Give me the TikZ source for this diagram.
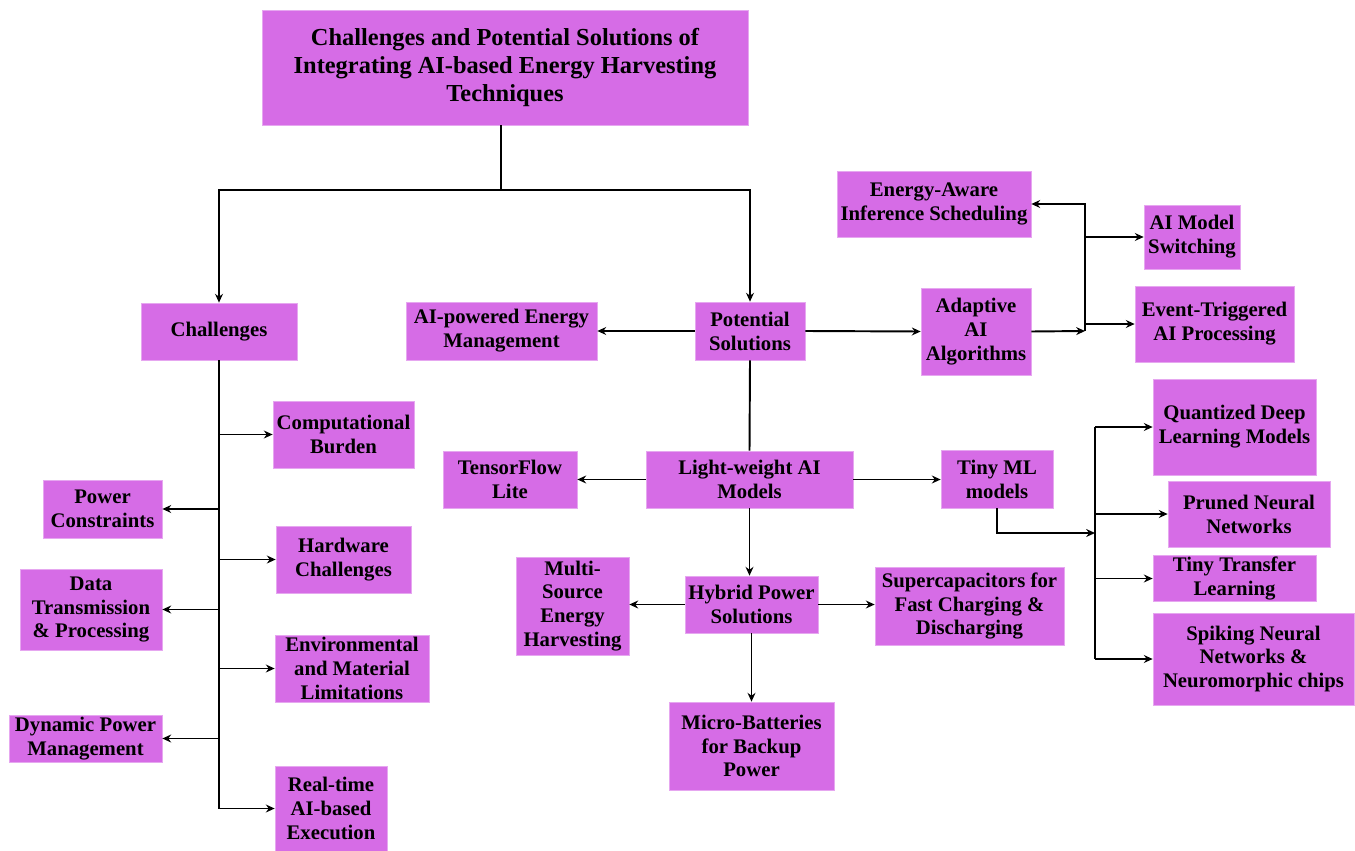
\documentclass[tikz,border=0pt]{standalone}
\usepackage{fontspec}
\setmainfont{Liberation Serif}
\usetikzlibrary{arrows.meta}
\definecolor{boxfill}{RGB}{214,108,230}

\tikzset{
  box/.style={fill=boxfill, draw=boxfill!60!white, line width=0.4pt, align=center, inner sep=1pt,
    font=\bfseries\fontsize{11.8}{13.6}\selectfont}, % every coloured block
  sz/.style 2 args={minimum width=#1*0.02cm, minimum height=#2*0.02cm}, % block size in pixels
  link/.style={line width=1.1pt},
  arr/.style={link, -{Stealth[length=5pt,width=4.5pt]}},
}

\begin{document}
\begin{tikzpicture}[x=0.02cm, y=-0.02cm]
    \useasboundingbox (0,0) rectangle (1355,851);

    % title and the two branches
    \node[box, sz={486}{115}, font=\bfseries\fontsize{13.9}{15.9}\selectfont] (title) at (505,67.5)
        {Challenges and Potential Solutions of\\Integrating AI-based Energy Harvesting\\Techniques};
    \node[box, sz={156}{57}] (chal) at (219,331.5) {Challenges};
    \node[box, sz={110}{58}] (ps) at (750,331) {Potential\\Solutions};

    % challenges
    \node[box, sz={141}{67}] (comp) at (343.5,434.5) {Computational\\Burden};
    \node[box, sz={119}{58}] (pow) at (102.5,509) {Power\\Constraints};
    \node[box, sz={135}{67}] (hw) at (343.5,559.5) {Hardware\\Challenges};
    \node[box, sz={142}{81}] (data) at (91,609.5) {Data\\Transmission\\\& Processing};
    \node[box, sz={154}{67}] (env) at (352,668.5) {Environmental\\and Material\\Limitations};
    \node[box, sz={153}{47}] (dyn) at (85.5,738.5) {Dynamic Power\\Management};
    \node[box, sz={112}{85}] (rt) at (331,808.5) {Real-time\\AI-based\\Execution};

    % potential solutions
    \node[box, sz={191}{58}] (aip) at (501.5,331) {AI-powered Energy\\Management};
    \node[box, sz={110}{87}] (ad) at (976,331.5) {Adaptive\\AI\\Algorithms};
    \node[box, sz={194}{66}] (eas) at (934,204) {Energy-Aware\\Inference Scheduling};
    \node[box, sz={96}{64}] (ams) at (1192,237) {AI Model\\Switching};
    \node[box, sz={159}{76}] (evt) at (1214.5,324) {Event-Triggered\\AI Processing};

    \node[box, sz={207}{57}] (lw) at (749.5,479.5) {Light-weight AI\\Models};
    \node[box, sz={134}{57}] (tfl) at (510,479.5) {TensorFlow\\Lite};
    \node[box, sz={112}{58}] (tml) at (997,479) {Tiny ML\\models};
    \node[box, sz={163}{96}] (qd) at (1234.5,427) {Quantized Deep\\Learning Models};
    \node[box, sz={162}{66}] (pn) at (1249,514) {Pruned Neural\\Networks};
    \node[box, sz={163}{45}] (ttl) at (1234.5,578.5) {Tiny Transfer\\Learning};
    \node[box, sz={201}{92}] (sp) at (1253.5,659) {Spiking Neural\\Networks \&\\Neuromorphic chips};

    \node[box, sz={133}{57}] (hy) at (751.5,604.5) {Hybrid Power\\Solutions};
    \node[box, sz={113}{98}] (ms) at (572.5,606) {Multi-\\Source\\Energy\\Harvesting};
    \node[box, sz={189}{78}] (sc) at (969.5,606) {Supercapacitors for\\Fast Charging \&\\Discharging};
    \node[box, sz={165}{88}] (mb) at (751.5,746) {Micro-Batteries\\for Backup\\Power};

    % junction points
    \coordinate (tb) at (501,190);
    \coordinate (aj) at (1085,331);
    \coordinate (ajt) at (1085,204);
    \coordinate (tj) at (1095,533);

    % title connectors
    \draw[link] (title.south -| tb) -- (tb);
    \draw[arr] (tb) -| (chal.north);
    \draw[arr] (tb) -| (ps.north);

    % challenges trunk
    \draw[link] (chal.south) -- (chal.south |- rt.west);
    \draw[arr] (chal.south |- comp.west) -- (comp.west);
    \draw[arr] (chal.south |- pow.east) -- (pow.east);
    \draw[arr] (chal.south |- hw.west) -- (hw.west);
    \draw[arr] (chal.south |- data.east) -- (data.east);
    \draw[arr] (chal.south |- env.west) -- (env.west);
    \draw[arr] (chal.south |- dyn.east) -- (dyn.east);
    \draw[arr] (chal.south |- rt.west) -- (rt.west);

    % solutions
    \draw[arr] (ps.west) -- (aip.east);
    \draw[arr] (ps.east) -- (ad.west);
    \draw[link] (ps.south) -- (lw.north);
    \draw[arr] (ad.east) -- (aj);
    \draw[arr] (aj) -- (ajt) -- (eas.east);
    \draw[arr] (aj |- ams.west) -- (ams.west);
    \draw[arr] (aj |- evt.west) -- (evt.west);

    \draw[arr] (lw.west) -- (tfl.east);
    \draw[arr] (lw.east) -- (lw.east -| tml.west);
    \draw[arr] (lw.south) -- (lw.south |- hy.north);
    \draw[arr] (tml.south) |- (tj);
    \draw[link] (tj |- qd.west) -- (tj |- sp.west);
    \draw[arr] (tj |- qd.west) -- (qd.west);
    \draw[arr] (tj |- pn.west) -- (pn.west);
    \draw[arr] (tj |- ttl.west) -- (ttl.west);
    \draw[arr] (tj |- sp.west) -- (sp.west);

    \draw[arr] (hy.west) -- (hy.west -| ms.east);
    \draw[arr] (hy.east) -- (hy.east -| sc.west);
    \draw[arr] (hy.south) -- (mb.north);
\end{tikzpicture}
\end{document}
